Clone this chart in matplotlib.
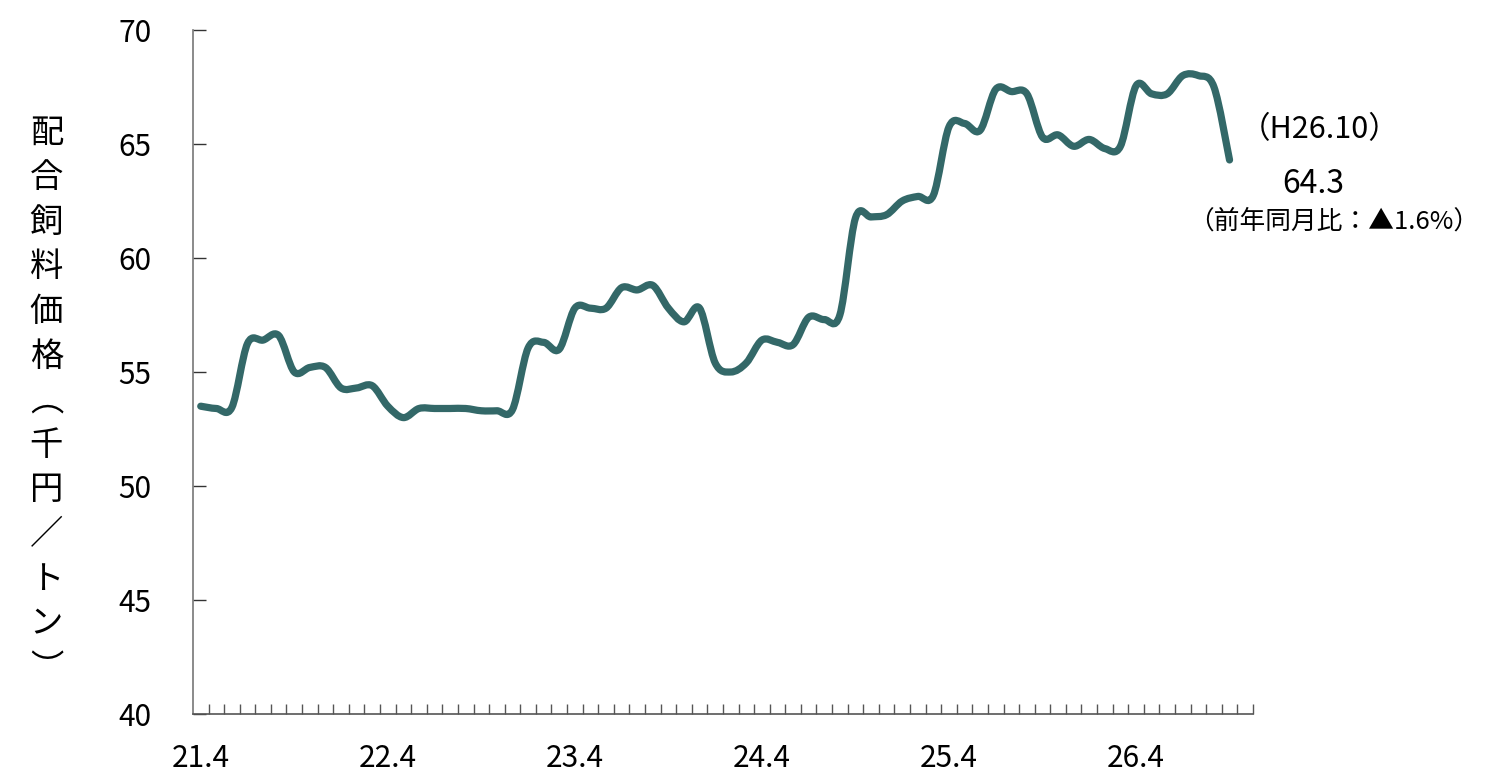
import numpy as np
import matplotlib
matplotlib.use('Agg')
import matplotlib.pyplot as plt
from matplotlib.path import Path
from matplotlib.patches import PathPatch

plt.rcParams['font.family'] = ['Noto Sans CJK JP', 'DejaVu Sans']

# 月別の配合飼料価格（千円／トン）H21.4〜H26.10
months = ['21.4', '21.5', '21.6', '21.7', '21.8', '21.9', '21.10', '21.11', '21.12',
          '22.1', '22.2', '22.3', '22.4', '22.5', '22.6', '22.7', '22.8', '22.9',
          '22.10', '22.11', '22.12', '23.1', '23.2', '23.3', '23.4', '23.5', '23.6',
          '23.7', '23.8', '23.9', '23.10', '23.11', '23.12', '24.1', '24.2', '24.3',
          '24.4', '24.5', '24.6', '24.7', '24.8', '24.9', '24.10', '24.11', '24.12',
          '25.1', '25.2', '25.3', '25.4', '25.5', '25.6', '25.7', '25.8', '25.9',
          '25.10', '25.11', '25.12', '26.1', '26.2', '26.3', '26.4', '26.5', '26.6',
          '26.7', '26.8', '26.9', '26.10', '26.11']
price = [53.5, 53.4, 53.45, 56.25, 56.4, 56.6, 55.0, 55.2, 55.2,
         54.3, 54.3, 54.4, 53.5, 53.0, 53.4, 53.4, 53.4, 53.4,
         53.3, 53.3, 53.35, 56.05, 56.3, 56.0, 57.8, 57.8, 57.8,
         58.7, 58.6, 58.8, 57.8, 57.2, 57.8, 55.4, 55.0, 55.4,
         56.4, 56.3, 56.2, 57.4, 57.3, 57.5, 61.75, 61.8, 61.9,
         62.5, 62.7, 62.75, 65.75, 65.9, 65.6, 67.4, 67.3, 67.2,
         65.3, 65.4, 64.9, 65.2, 64.8, 64.9, 67.55, 67.2, 67.2,
         68.0, 68.0, 67.5, 64.3]
year_labels = ['21.4', '22.4', '23.4', '24.4', '25.4', '26.4']
ylabel_chars = ['配', '合', '飼', '料', '価', '格', '︵', '千', '円', '／', 'ト', 'ン', '︶']

LINE_COLOR = '#336868'

fig = plt.figure(figsize=(14.98, 7.73), dpi=100)
ax = fig.add_axes([0.1288, 0.0763, 0.7076, 0.8849])

# 平滑線（Excel風）: Catmull-Rom を3次ベジェで描く
x = np.arange(len(price), dtype=float)
y = np.array(price, dtype=float)
verts = [(x[0], y[0])]
codes = [Path.MOVETO]
n = len(x)
for i in range(n - 1):
    x0, y0 = (x[i - 1], y[i - 1]) if i > 0 else (x[i], y[i])
    x3, y3 = (x[i + 2], y[i + 2]) if i + 2 < n else (x[i + 1], y[i + 1])
    c1 = (x[i] + (x[i + 1] - x0) / 6, y[i] + (y[i + 1] - y0) / 6)
    c2 = (x[i + 1] - (x3 - x[i]) / 6, y[i + 1] - (y3 - y[i]) / 6)
    verts += [c1, c2, (x[i + 1], y[i + 1])]
    codes += [Path.CURVE4] * 3
patch = PathPatch(Path(verts, codes), fill=False, edgecolor=LINE_COLOR, lw=5.2,
                  capstyle='round', joinstyle='round', zorder=3)
ax.add_patch(patch)

ax.set_xlim(-0.5, len(months) - 0.5)
ax.set_ylim(40, 70)
ax.set_yticks(np.arange(40, 71, 5))
ax.tick_params(axis='y', direction='in', length=9, width=1, pad=30,
               labelsize=21.5, color='#333333')

ax.set_xticks([months.index(m) for m in year_labels])
ax.set_xticklabels(year_labels)
ax.set_xticks(np.arange(0.5, len(months) - 0.4, 1.0), minor=True)
ax.tick_params(axis='x', which='major', length=0, pad=21, labelsize=21.5)
ax.tick_params(axis='x', which='minor', direction='in', length=7, width=1,
               color='#555555')

for s in ['top', 'right']:
    ax.spines[s].set_visible(False)
ax.spines['left'].set_color('#777777')
ax.spines['bottom'].set_color('#555555')
ax.spines['left'].set_linewidth(1.2)
ax.spines['bottom'].set_linewidth(1.2)

# 縦書きの軸ラベル（1文字ずつ）
top_px, step_px = 133, 44.6
for k, ch in enumerate(ylabel_chars):
    fig.text(0.031, 1 - (top_px + step_px * k) / 773, ch, ha='center', va='center',
             fontsize=24)

# 注記
fig.text(0.881, 0.832, '（H26.10）', ha='center', va='center', fontsize=22)
fig.text(0.8765, 0.762, '64.3', ha='center', va='center', fontsize=23)
fig.text(0.890, 0.713, '（前年同月比：▲1.6%）', ha='center', va='center', fontsize=18.5)

fig.savefig('out.png', dpi=100)
